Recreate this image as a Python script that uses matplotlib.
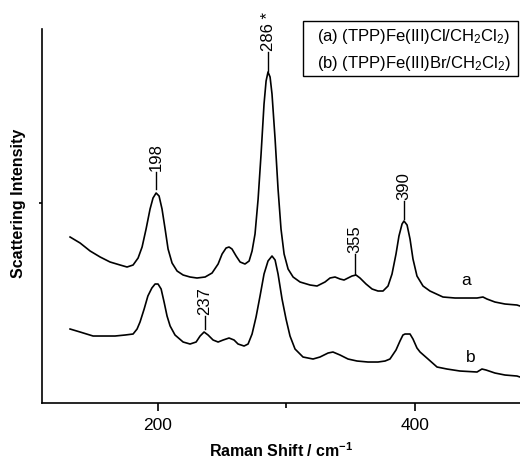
import matplotlib
matplotlib.use('Agg')
import matplotlib.pyplot as plt
from matplotlib.patches import Rectangle

plt.rcParams['font.family'] = ['Liberation Sans', 'DejaVu Sans']
plt.rcParams['mathtext.default'] = 'regular'

# spectrum (a) (TPP)Fe(III)Cl
shift_a = [131.8, 139.6, 147.4, 155.2, 162.9, 170.7, 176.1, 180.8, 184.7, 187.8,
           190.9, 194.0, 196.3, 198.7, 201.0, 203.3, 205.7, 208.0, 211.1, 215.0,
           219.7, 225.1, 230.5, 236.8, 242.2, 246.9, 250.0, 253.1, 255.4, 257.7,
           260.9, 264.0, 267.8, 271.0, 273.3, 275.6, 278.0, 280.3, 282.6, 284.2,
           285.7, 287.3, 288.8, 291.2, 293.5, 295.8, 298.2, 301.3, 305.2, 310.6,
           318.4, 323.8, 330.0, 333.9, 337.8, 341.7, 344.8, 347.9, 351.0, 354.1,
           357.2, 361.9, 366.6, 371.2, 375.1, 379.0, 382.1, 385.2, 387.5, 389.9,
           391.4, 393.8, 396.1, 398.4, 401.5, 406.2, 411.6, 421.7, 431.1, 438.8,
           448.2, 452.8, 455.9, 462.1, 469.9, 479.2, 481.6]
int_a = [166, 160, 152, 146, 141, 138, 136, 138, 145, 156,
         174, 194, 205, 210, 207, 194, 174, 154, 140, 132,
         128, 126, 125, 126, 130, 139, 149, 155, 156, 154,
         147, 141, 139, 142, 152, 169, 204, 249, 299, 322,
         331, 326, 309, 264, 214, 174, 149, 134, 126, 121,
         118, 117, 121, 125, 126, 124, 123, 125, 127, 128,
         125, 119, 114, 112, 112, 117, 129, 149, 167, 179,
         182, 178, 164, 144, 127, 117, 112, 106, 105, 105,
         105, 106, 104, 101, 99, 98, 97]

# spectrum (b) (TPP)Fe(III)Br
shift_b = [131.8, 139.6, 149.7, 159.0, 166.8, 174.6, 180.8, 183.9, 186.2, 189.4,
           192.3, 195.4, 197.9, 200.2, 202.6, 204.9, 207.2, 209.6, 213.4, 219.7,
           225.1, 229.8, 232.9, 236.0, 239.1, 243.0, 246.9, 250.8, 255.4, 259.3,
           262.4, 267.1, 270.2, 273.3, 276.4, 279.5, 282.6, 285.7, 288.8, 291.2,
           293.5, 296.6, 299.7, 302.8, 306.7, 312.9, 320.7, 326.1, 332.4, 336.2,
           341.7, 347.9, 354.9, 363.4, 371.2, 376.7, 380.5, 385.2, 388.3, 390.6,
           392.2, 396.1, 398.4, 401.5, 403.9, 410.1, 417.1, 424.8, 434.9, 448.2,
           452.0, 455.2, 462.1, 469.9, 479.2, 481.6]
int_b = [74, 71, 67, 67, 67, 68, 69, 74, 81, 94,
         107, 115, 119, 119, 114, 101, 87, 77, 68, 61,
         59, 61, 67, 71, 68, 63, 61, 63, 65, 63,
         59, 57, 59, 69, 86, 107, 129, 142, 147, 143,
         129, 104, 84, 67, 54, 46, 44, 46, 50, 51,
         48, 44, 42, 41, 41, 42, 44, 53, 62, 68,
         69, 69, 64, 55, 51, 44, 36, 34, 32, 31,
         34, 33, 30, 28, 27, 26]

# peak labels: text, position, tick line bottom/top
peak_text = ['198', '286 *', '355', '390', '237']
peak_pos = [198.5, 285.9, 353.3, 391.4, 236.8]
peak_lo = [214, 332, 129, 184, 74]
peak_hi = [231, 351, 149, 202, 87]

legend_lines = [r'(a) (TPP)Fe(III)Cl/CH$_2$Cl$_2$)',
                r'(b) (TPP)Fe(III)Br/CH$_2$Cl$_2$)']

fig = plt.figure(figsize=(5.2, 4.6), dpi=100)
ax = fig.add_axes([0.0808, 0.1217, 0.9192, 0.8131])

ax.plot(shift_a, int_a, color='black', lw=1.2)
ax.plot(shift_b, int_b, color='black', lw=1.2)

for t, x, lo, hi in zip(peak_text, peak_pos, peak_lo, peak_hi):
    ax.plot([x, x], [lo, hi], color='black', lw=1.0)
    ax.text(x, hi + 2, t, rotation=90, ha='center', va='bottom', fontsize=12)

ax.text(439.6, 124, 'a', ha='center', va='center', fontsize=12.5)
ax.text(443.5, 47, 'b', ha='center', va='center', fontsize=12.5)

ax.set_xlim(110, 481.6)
ax.set_ylim(0, 374)
ax.set_xticks([200, 400])
ax.set_xticks([300], minor=True)
ax.set_yticks([200])
ax.set_yticklabels([])
ax.tick_params(axis='x', which='major', direction='out', length=6, width=1.2, labelsize=12.5, pad=4)
ax.tick_params(axis='x', which='minor', direction='out', length=3.5, width=1.2)
ax.tick_params(axis='y', direction='out', length=2.5, width=1.2)

for s in ['top', 'right']:
    ax.spines[s].set_visible(False)
for s in ['left', 'bottom']:
    ax.spines[s].set_linewidth(1.2)

ax.set_xlabel('Raman Shift / cm$^{-1}$', fontsize=11.5, fontweight='bold', labelpad=6)
ax.set_ylabel('Scattering Intensity', fontsize=11.5, fontweight='bold')
ax.yaxis.set_label_coords(-0.033, 0.537)

fig.add_artist(Rectangle((0.583, 0.8326), 0.413, 0.1196, transform=fig.transFigure,
                         fill=False, edgecolor='black', lw=1.0))
fig.text(0.6096, 0.9196, legend_lines[0], fontsize=12, va='center')
fig.text(0.6096, 0.863, legend_lines[1], fontsize=12, va='center')

fig.savefig('out.png', dpi=100)
